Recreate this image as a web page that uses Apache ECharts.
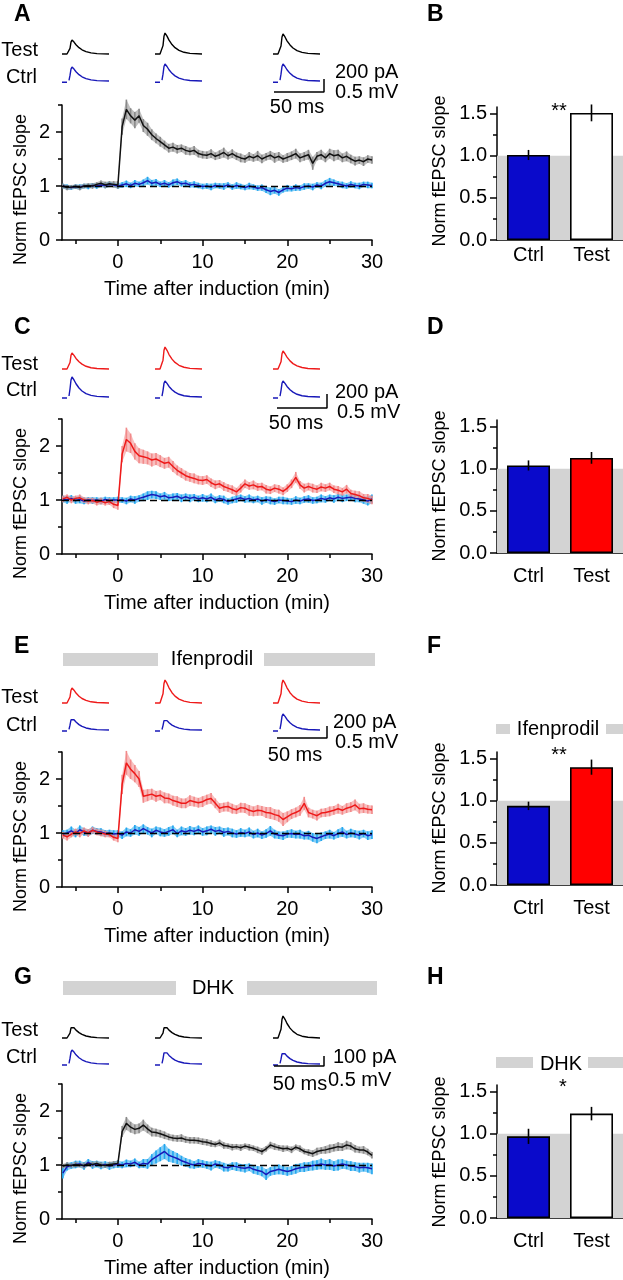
<!DOCTYPE html>
<html><head><meta charset="utf-8">
<script src="https://cdn.jsdelivr.net/npm/echarts@6/dist/echarts.min.js"></script>
<style>html,body{margin:0;padding:0;background:#fff}#c{width:623px;height:1280px}</style>
</head><body><div id="c"></div>
<script>
// ---------------- DATA ----------------
const timeMin = [-6.5,-6,-5.5,-5,-4.5,-4,-3.5,-3,-2.5,-2,-1.5,-1,-0.5,0,
 0.5,1,1.5,2,2.5,3,3.5,4,4.5,5,5.5,6,6.5,7,7.5,8,8.5,9,9.5,10,
 10.5,11,11.5,12,12.5,13,13.5,14,14.5,15,15.5,16,16.5,17,17.5,18,18.5,19,19.5,20,
 20.5,21,21.5,22,22.5,23,23.5,24,24.5,25,25.5,26,26.5,27,27.5,28,28.5,29,29.5,30];

// Panel A
const aTestMean = [1.00,0.97,0.98,0.99,0.97,1.00,1.01,1.00,1.03,1.05,1.02,1.04,1.03,1.02,
 2.10,2.42,2.30,2.22,2.30,2.12,2.05,1.95,1.88,1.82,1.76,1.70,1.72,1.68,1.70,1.66,1.64,1.66,1.60,1.58,
 1.57,1.60,1.55,1.58,1.62,1.56,1.60,1.55,1.52,1.50,1.55,1.52,1.56,1.50,1.54,1.57,1.52,1.55,1.50,1.53,
 1.56,1.60,1.52,1.55,1.58,1.42,1.55,1.58,1.52,1.60,1.56,1.58,1.52,1.55,1.50,1.46,1.48,1.45,1.50,1.48];
const aTestSem = [0.04,0.05,0.04,0.04,0.05,0.04,0.04,0.05,0.04,0.05,0.06,0.05,0.06,0.07,
 0.15,0.18,0.14,0.15,0.13,0.12,0.12,0.10,0.09,0.09,0.08,0.08,0.08,0.08,0.07,0.08,0.07,0.08,0.07,0.07,
 0.07,0.08,0.07,0.08,0.09,0.07,0.08,0.07,0.08,0.07,0.08,0.07,0.09,0.08,0.07,0.08,0.09,0.08,0.07,0.08,
 0.08,0.09,0.08,0.08,0.09,0.12,0.08,0.09,0.08,0.09,0.10,0.09,0.08,0.09,0.08,0.08,0.07,0.08,0.07,0.07];
const aCtrlMean = [1.00,0.98,0.97,0.99,0.98,1.00,0.99,1.01,1.00,1.02,1.01,1.03,1.02,1.00,
 1.02,1.04,1.01,1.05,1.03,1.06,1.10,1.05,1.07,1.03,1.05,1.02,1.06,1.08,1.04,1.05,1.02,1.03,1.01,0.99,
 1.00,0.98,1.01,1.00,0.99,1.02,0.98,1.01,0.99,0.97,1.00,0.98,0.96,0.97,0.93,0.90,0.92,0.88,0.93,0.96,
 0.95,0.97,0.96,0.99,1.00,0.98,1.02,1.00,1.05,1.08,1.06,1.04,1.02,1.00,1.03,1.01,1.00,1.03,1.02,1.01];
const aCtrlSem = [0.04,0.05,0.04,0.04,0.05,0.04,0.05,0.04,0.05,0.04,0.05,0.05,0.04,0.05,
 0.05,0.06,0.05,0.06,0.05,0.06,0.07,0.06,0.06,0.05,0.06,0.05,0.06,0.06,0.05,0.06,0.05,0.06,0.05,0.05,
 0.05,0.06,0.05,0.05,0.06,0.05,0.05,0.06,0.05,0.05,0.06,0.05,0.05,0.06,0.06,0.07,0.06,0.06,0.05,0.06,
 0.05,0.06,0.05,0.06,0.05,0.06,0.05,0.06,0.06,0.07,0.06,0.05,0.06,0.05,0.06,0.05,0.06,0.05,0.06,0.05];

// Panel C
const cTestMean = [1.02,1.05,1.00,1.03,1.04,1.00,0.98,0.99,0.96,0.98,0.95,0.97,0.92,0.90,
 1.85,2.12,2.05,1.90,1.82,1.80,1.78,1.74,1.76,1.72,1.68,1.70,1.62,1.55,1.50,1.45,1.42,1.40,1.37,1.36,
 1.38,1.32,1.28,1.30,1.25,1.22,1.19,1.15,1.22,1.30,1.26,1.28,1.24,1.25,1.20,1.18,1.22,1.20,1.16,1.22,
 1.30,1.42,1.28,1.22,1.25,1.22,1.20,1.24,1.22,1.25,1.20,1.18,1.15,1.20,1.12,1.10,1.08,1.04,1.03,1.00];
const cTestSem = [0.06,0.05,0.06,0.05,0.06,0.05,0.06,0.05,0.06,0.06,0.05,0.06,0.07,0.08,
 0.15,0.22,0.18,0.15,0.14,0.13,0.12,0.12,0.11,0.11,0.10,0.10,0.10,0.09,0.09,0.09,0.08,0.09,0.08,0.08,
 0.08,0.08,0.08,0.07,0.08,0.07,0.08,0.07,0.08,0.08,0.07,0.08,0.07,0.07,0.08,0.07,0.07,0.08,0.07,0.07,
 0.08,0.10,0.07,0.08,0.07,0.08,0.07,0.08,0.07,0.07,0.07,0.08,0.07,0.08,0.07,0.07,0.08,0.07,0.08,0.08];
const cCtrlMean = [1.02,1.00,1.03,0.99,1.01,0.98,1.00,0.99,1.00,0.98,1.01,0.99,1.00,1.00,
 1.00,0.98,1.02,1.00,1.03,1.05,1.08,1.10,1.09,1.06,1.08,1.04,1.05,1.07,1.03,1.06,1.03,1.05,1.02,1.04,
 1.02,1.05,1.00,1.03,1.01,0.97,1.00,1.02,1.04,1.01,1.03,1.00,1.02,0.98,1.01,0.99,0.97,1.00,0.99,0.98,
 0.97,1.00,0.98,1.01,1.02,0.99,1.00,1.03,1.01,1.04,1.02,1.05,1.03,1.04,1.05,1.03,1.02,1.00,0.98,1.02];
const cCtrlSem = [0.06,0.07,0.06,0.06,0.07,0.06,0.05,0.06,0.05,0.06,0.05,0.06,0.05,0.06,
 0.05,0.06,0.06,0.07,0.06,0.07,0.08,0.07,0.07,0.06,0.07,0.06,0.07,0.06,0.07,0.06,0.07,0.06,0.06,0.07,
 0.06,0.07,0.06,0.06,0.07,0.06,0.06,0.07,0.06,0.06,0.07,0.06,0.06,0.07,0.06,0.07,0.06,0.06,0.07,0.06,
 0.06,0.07,0.06,0.06,0.07,0.06,0.06,0.07,0.06,0.06,0.07,0.06,0.07,0.06,0.06,0.07,0.06,0.07,0.08,0.08];

// Panel E
const eTestMean = [0.96,0.93,0.98,1.02,0.99,1.04,1.00,1.05,1.02,1.00,0.98,0.97,0.92,0.90,
 1.90,2.30,2.18,2.10,2.00,1.68,1.70,1.72,1.68,1.70,1.65,1.64,1.60,1.58,1.55,1.55,1.60,1.58,1.56,1.58,
 1.62,1.64,1.55,1.46,1.48,1.49,1.45,1.43,1.47,1.46,1.42,1.40,1.42,1.41,1.38,1.37,1.34,1.32,1.25,1.30,
 1.35,1.38,1.42,1.55,1.38,1.35,1.32,1.37,1.38,1.40,1.42,1.45,1.42,1.46,1.48,1.52,1.45,1.46,1.44,1.43];
const eTestSem = [0.06,0.07,0.06,0.06,0.07,0.06,0.07,0.06,0.06,0.06,0.06,0.05,0.06,0.07,
 0.18,0.22,0.18,0.16,0.15,0.12,0.11,0.10,0.10,0.09,0.10,0.09,0.09,0.10,0.09,0.09,0.10,0.09,0.09,0.10,
 0.09,0.10,0.09,0.09,0.08,0.09,0.09,0.08,0.09,0.09,0.10,0.09,0.10,0.09,0.10,0.11,0.10,0.11,0.12,0.10,
 0.09,0.09,0.10,0.12,0.09,0.08,0.09,0.08,0.08,0.09,0.08,0.09,0.08,0.09,0.09,0.10,0.09,0.09,0.08,0.08];
const eCtrlMean = [0.98,1.00,1.04,0.99,1.06,1.02,1.00,1.05,1.03,1.02,0.99,1.00,0.98,0.99,
 0.96,1.02,1.00,1.06,1.03,1.08,1.04,1.00,1.05,1.02,1.00,1.03,1.06,0.99,1.04,1.02,1.05,1.03,1.06,1.02,
 1.04,1.07,1.03,1.05,1.01,1.03,1.00,0.98,1.01,0.99,1.02,0.97,1.00,0.96,0.99,1.04,0.98,0.96,0.95,0.98,
 0.99,0.97,0.98,0.95,0.96,0.92,0.90,0.93,0.96,0.98,0.95,0.99,1.02,0.97,1.00,0.98,0.96,0.99,0.95,0.97];
const eCtrlSem = [0.07,0.06,0.08,0.07,0.08,0.07,0.06,0.07,0.06,0.07,0.06,0.06,0.07,0.06,
 0.07,0.08,0.07,0.09,0.08,0.08,0.07,0.08,0.07,0.08,0.07,0.08,0.08,0.07,0.08,0.07,0.08,0.07,0.08,0.07,
 0.08,0.07,0.08,0.07,0.08,0.07,0.08,0.07,0.08,0.07,0.08,0.07,0.08,0.07,0.08,0.09,0.08,0.07,0.08,0.07,
 0.08,0.07,0.08,0.07,0.08,0.08,0.09,0.08,0.07,0.08,0.07,0.08,0.09,0.07,0.08,0.07,0.08,0.07,0.08,0.08];

// Panel G
const gTestMean = [0.98,1.00,0.99,1.01,1.00,0.99,1.02,1.01,1.03,1.00,0.99,1.01,1.02,1.03,
 1.62,1.77,1.70,1.66,1.68,1.74,1.67,1.61,1.60,1.58,1.55,1.52,1.50,1.49,1.50,1.47,1.46,1.46,1.45,1.43,
 1.42,1.40,1.38,1.41,1.36,1.35,1.33,1.34,1.32,1.35,1.33,1.31,1.28,1.25,1.30,1.37,1.34,1.32,1.30,1.31,
 1.28,1.33,1.30,1.25,1.23,1.21,1.25,1.27,1.28,1.30,1.32,1.34,1.33,1.37,1.35,1.30,1.28,1.28,1.24,1.18];
const gTestSem = [0.04,0.05,0.04,0.05,0.04,0.05,0.04,0.05,0.04,0.05,0.04,0.05,0.05,0.05,
 0.10,0.12,0.10,0.09,0.09,0.10,0.08,0.08,0.07,0.07,0.07,0.06,0.06,0.06,0.07,0.06,0.06,0.06,0.06,0.06,
 0.06,0.06,0.05,0.06,0.06,0.05,0.06,0.05,0.06,0.05,0.06,0.05,0.06,0.06,0.05,0.06,0.06,0.05,0.06,0.05,
 0.06,0.05,0.06,0.05,0.06,0.06,0.07,0.06,0.07,0.08,0.07,0.08,0.07,0.08,0.07,0.07,0.06,0.07,0.06,0.06];
const gCtrlMean = [0.85,0.97,0.99,1.01,1.02,0.98,1.05,1.00,1.02,0.99,1.01,0.98,1.00,1.02,
 1.00,1.03,1.02,1.05,1.00,1.03,1.02,1.10,1.15,1.20,1.25,1.18,1.15,1.12,1.08,1.05,1.02,1.00,1.03,1.02,
 1.00,0.98,1.02,1.00,0.96,0.95,0.98,0.97,0.95,0.94,0.96,0.92,0.90,0.88,0.82,0.88,0.90,0.92,0.90,0.88,
 0.90,0.93,0.95,0.96,0.97,0.99,1.00,1.02,1.00,1.01,0.98,1.00,1.02,1.00,0.98,0.97,0.95,0.96,0.95,0.93];
const gCtrlSem = [0.10,0.07,0.06,0.07,0.06,0.07,0.06,0.07,0.06,0.07,0.06,0.07,0.06,0.07,
 0.06,0.07,0.06,0.07,0.06,0.08,0.09,0.10,0.12,0.13,0.14,0.12,0.11,0.10,0.09,0.08,0.08,0.07,0.08,0.07,
 0.07,0.08,0.07,0.07,0.08,0.07,0.07,0.08,0.07,0.08,0.07,0.08,0.08,0.09,0.10,0.08,0.08,0.09,0.08,0.08,
 0.08,0.09,0.08,0.09,0.08,0.09,0.09,0.10,0.09,0.10,0.09,0.10,0.09,0.08,0.09,0.08,0.09,0.08,0.09,0.10];

// Axis ticks
const timeTicksMajor = [0,10,20,30];
const timeTicksMinor = [-5,5,15,25];
const normTicksMajor = [0,1,2];
const normTicksMinor = [0.5,1.5,2.5];
const barTicksMajor = [0,0.5,1.0,1.5];
const barTicksMinor = [0.25,0.75,1.25];

// Bar summaries (Ctrl, Test)
const barCategories = ['Ctrl','Test'];
const bMean = [1.01,1.51], bSem = [0.06,0.10];
const dMean = [1.04,1.13], dSem = [0.06,0.07];
const fMean = [0.94,1.40], fSem = [0.05,0.09];
const hMean = [0.97,1.24], hSem = [0.09,0.08];
const sigMarks = ['**','','**','*'];

// Example sweeps (time in ms, current in pA)
const traceTimeMs = [0,5,6,7,8,9,10,12,14,17,20,24,29,35,47];
const aTestTraces = [
 [0,0,0,11,86,183,215,183,142,97,65,37,17,6,0],
 [0,0,0,16,129,275,323,275,213,145,97,55,26,10,0],
 [0,0,0,15,123,262,308,262,203,139,92,52,25,9,0]];
const aCtrlTraces = [
 [-20,-20,null,11,86,183,215,183,142,97,65,37,17,6,0],
 [-20,-20,null,13,105,223,262,223,173,118,79,45,21,8,0],
 [-20,-20,null,13,105,223,262,223,173,118,79,45,21,8,0]];
const cTestTraces = [
 [0,0,0,11,92,195,229,195,151,103,69,39,18,7,0],
 [0,0,0,16,126,267,314,267,207,141,94,53,25,9,0],
 [0,0,0,13,103,218,257,218,170,116,77,44,21,8,0]];
const cCtrlTraces = [
 [-15,-15,null,14,114,243,286,243,189,129,86,49,23,9,0],
 [-15,-15,null,11,92,195,229,195,151,103,69,39,18,7,0],
 [-15,-15,null,11,92,195,229,195,151,103,69,39,18,7,0]];
const eTestTraces = [
 [0,0,0,13,100,213,250,213,165,113,75,43,20,8,0],
 [0,0,0,19,153,326,383,326,253,172,115,65,31,11,0],
 [0,0,0,19,153,326,383,326,253,172,115,65,31,11,0]];
const eCtrlTraces = [
 [-17,-17,null,10,80,170,200,170,132,90,60,34,16,6,0],
 [-17,-17,null,9,73,156,183,156,121,82,55,31,15,5,0],
 [-17,-17,null,13,107,227,267,227,176,120,80,45,21,8,0]];
const gTestTraces = [
 [0,0,0,6,48,102,120,102,79,54,36,20,10,4,0],
 [0,0,0,6,48,102,120,102,79,54,36,20,10,4,0],
 [0,0,0,11,88,187,220,187,145,99,66,37,18,7,0]];
const gCtrlTraces = [
 [-10,-10,null,7,56,119,140,119,92,63,42,24,11,4,0],
 [-10,-10,null,7,52,111,130,111,86,59,39,22,10,4,0],
 [-10,-10,null,6,48,102,120,102,79,54,36,20,10,4,0]];
const scaleBarMs = 50;
const scaleBarPA = [200,200,200,100];
const scaleBarMV = 0.5;
const drugNames = [null,null,'Ifenprodil','DHK'];

// ---------------- STYLE / LAYOUT ----------------
const FONT = "'Liberation Sans', Arial, Helvetica, sans-serif";
const AX = {color:'#000', width:1.5};
const COL = {
  black:{mean:'#111111', sem:'#8a8a8a'},
  red:{mean:'#ee1a1a', sem:'#f28a8a'},
  blue:{mean:'#1818b8', sem:'#22a6ee'}
};
const panels = [
 {L:'A', R:'B', tM:aTestMean, tS:aTestSem, cM:aCtrlMean, cS:aCtrlSem, tTr:aTestTraces, cTr:aCtrlTraces,
  tCol:'black', barM:bMean, barS:bSem, barTestFill:'#ffffff',
  letterY:15, testY:50, ctrlY:77, testBase:54, ctrlBase:81, pxPerPA:13/200,
  sbLeft:274, sbY:92, paX:335, paY:72, mvX:335, mvY:92, msX:297, msY:107,
  plotTop:105, barTop:107, catMargin:5, sigX:559, sigY:111, labY:171},
 {L:'C', R:'D', tM:cTestMean, tS:cTestSem, cM:cCtrlMean, cS:cCtrlSem, tTr:cTestTraces, cTr:cCtrlTraces,
  tCol:'red', barM:dMean, barS:dSem, barTestFill:'#ff0000',
  letterY:328, testY:364, ctrlY:390, testBase:369, ctrlBase:397, pxPerPA:14/200,
  sbLeft:277, sbY:408, paX:335, paY:392, mvX:337, mvY:412, msX:296, msY:423,
  plotTop:419, barTop:420, catMargin:13, sigX:559, sigY:425, labY:486},
 {L:'E', R:'F', tM:eTestMean, tS:eTestSem, cM:eCtrlMean, cS:eCtrlSem, tTr:eTestTraces, cTr:eCtrlTraces,
  tCol:'red', barM:fMean, barS:fSem, barTestFill:'#ff0000',
  letterY:647, testY:697, ctrlY:725, testBase:703, ctrlBase:730, pxPerPA:12/200,
  sbLeft:277, sbY:738, paX:333, paY:722, mvX:335, mvY:742, msX:295, msY:755,
  plotTop:752, barTop:752, catMargin:13, sigX:559, sigY:755, labY:818,
  drugY:653, drugH:13, drugRects:[[63,158],[264,375]], drugTX:212, drugTY:659,
  bDrugY:724, bDrugH:10, bDrugRects:[[496,510],[606,623]], bDrugTX:558, bDrugTY:729},
 {L:'G', R:'H', tM:gTestMean, tS:gTestSem, cM:gCtrlMean, cS:gCtrlSem, tTr:gTestTraces, cTr:gCtrlTraces,
  tCol:'black', barM:hMean, barS:hSem, barTestFill:'#ffffff',
  letterY:978, testY:1030, ctrlY:1057, testBase:1038, ctrlBase:1064, pxPerPA:10/100,
  sbLeft:274, sbY:1066, paX:333, paY:1057, mvX:328, mvY:1080, msX:300, msY:1084,
  plotTop:1084, barTop:1085, catMargin:13, sigX:563, sigY:1087, labY:1152,
  drugY:981, drugH:14, drugRects:[[63,176],[247,377]], drugTX:213, drugTY:988,
  bDrugY:1057, bDrugH:11, bDrugRects:[[496,533],[588,623]], bDrugTX:561, bDrugTY:1064}
];
const PLOT_LEFT = 62, PLOT_W = 310, PLOT_H = 135;
const BAR_LEFT = 497, BAR_H = 133;
const traceCols = [62,155,273];

const grid=[], xAxis=[], yAxis=[], series=[], gfx=[];

function txt(t,x,y,opt){
  opt = opt||{};
  gfx.push({type:'text', x:x, y:y, rotation:opt.rot||0, silent:true, z:10,
    style:{text:t, fontSize:opt.size||20, fontWeight:opt.weight||'normal', fontFamily:FONT,
      fill:'#000', align:opt.align||'left', verticalAlign:'middle'}});
}
function rect(x,y,w,h,fill){
  gfx.push({type:'rect', silent:true, z:5, shape:{x:x,y:y,width:w,height:h}, style:{fill:fill}});
}

function bandSeries(xi, yi, m, e, color){
  return {type:'custom', xAxisIndex:xi, yAxisIndex:yi, silent:true, z:1,
    data:[[timeMin[0], m[0]]],
    renderItem:function(params, api){
      const pts=[];
      for(let i=0;i<timeMin.length;i++) pts.push(api.coord([timeMin[i], m[i]+e[i]]));
      for(let i=timeMin.length-1;i>=0;i--) pts.push(api.coord([timeMin[i], m[i]-e[i]]));
      return {type:'polygon', shape:{points:pts}, style:{fill:color, opacity:0.55}};
    }};
}
function errSeries(xi, yi, m, e, color){
  return {type:'custom', xAxisIndex:xi, yAxisIndex:yi, silent:true, z:2,
    data: timeMin.map((t,i)=>[t, m[i], e[i]]),
    renderItem:function(params, api){
      const x=api.value(0), v=api.value(1), er=api.value(2);
      const a=api.coord([x, v-er]), b=api.coord([x, v+er]);
      return {type:'line', shape:{x1:a[0],y1:a[1],x2:b[0],y2:b[1]}, style:{stroke:color, lineWidth:1.6}};
    }};
}
function meanSeries(xi, yi, m, color, z, withRef){
  const s = {type:'line', xAxisIndex:xi, yAxisIndex:yi, silent:true, z:z,
    data: timeMin.map((t,i)=>[t, m[i]]), showSymbol:false, symbol:'none',
    lineStyle:{color:color, width:1.5}};
  if(withRef){
    s.markLine = {silent:true, symbol:'none', label:{show:false}, z:10,
      lineStyle:{color:'#000', width:1.3, type:[7,4]}, data:[{yAxis:1}]};
  }
  return s;
}

function addTrace(left, base, s, vals, color){
  const gi=grid.length;
  grid.push({left:left, top:base-30, width:50, height:40});
  const xi=xAxis.length, yi=yAxis.length;
  xAxis.push({gridIndex:gi, type:'value', min:0, max:50, show:false});
  yAxis.push({gridIndex:gi, type:'value', min:-10/s, max:30/s, show:false});
  series.push({type:'line', xAxisIndex:xi, yAxisIndex:yi, silent:true, showSymbol:false, symbol:'none',
    connectNulls:false, clip:false,
    data: traceTimeMs.map((t,i)=>[t, vals[i]===null?'-':vals[i]]),
    lineStyle:{color:color, width:1.4}});
}

panels.forEach(function(P, pi){
  // ---- time course ----
  const gi=grid.length;
  grid.push({left:PLOT_LEFT, top:P.plotTop, width:PLOT_W, height:PLOT_H});
  const xi=xAxis.length;
  xAxis.push({gridIndex:gi, type:'value', position:'bottom', min:-6.6, max:30,
    axisLine:{show:true, onZero:false, lineStyle:AX},
    axisTick:{show:true, customValues:timeTicksMajor, length:6, lineStyle:AX},
    axisLabel:{customValues:timeTicksMajor, margin:12, fontSize:20, color:'#000', fontFamily:FONT},
    splitLine:{show:false},
    name:'Time after induction (min)', nameLocation:'middle', nameGap:39,
    nameTextStyle:{fontSize:20, color:'#000', fontFamily:FONT}});
  xAxis.push({gridIndex:gi, type:'value', position:'bottom', min:-6.6, max:30,
    axisLine:{show:false, onZero:false}, axisTick:{show:true, customValues:timeTicksMinor, length:4, lineStyle:AX},
    axisLabel:{show:false}, splitLine:{show:false}});
  const yi=yAxis.length;
  yAxis.push({gridIndex:gi, type:'value', position:'left', min:0, max:2.5,
    axisLine:{show:true, onZero:false, lineStyle:AX},
    axisTick:{show:true, customValues:normTicksMajor, length:6, lineStyle:AX},
    axisLabel:{customValues:normTicksMajor, margin:12, fontSize:20, color:'#000', fontFamily:FONT},
    splitLine:{show:false}});
  yAxis.push({gridIndex:gi, type:'value', position:'left', min:0, max:2.5,
    axisLine:{show:false, onZero:false}, axisTick:{show:true, customValues:normTicksMinor, length:4, lineStyle:AX},
    axisLabel:{show:false}, splitLine:{show:false}});
  const tc = COL[P.tCol], cc = COL.blue;
  series.push(bandSeries(xi, yi, P.cM, P.cS, cc.sem));
  series.push(bandSeries(xi, yi, P.tM, P.tS, tc.sem));
  series.push(errSeries(xi, yi, P.cM, P.cS, cc.sem));
  series.push(errSeries(xi, yi, P.tM, P.tS, tc.sem));
  series.push(meanSeries(xi, yi, P.cM, cc.mean, 3, false));
  series.push(meanSeries(xi, yi, P.tM, tc.mean, 4, true));
  txt('Norm fEPSC slope', 21, P.plotTop + PLOT_H/2 + 17, {rot:Math.PI/2, align:'center', size:18});

  // ---- sweeps ----
  for(let k=0;k<3;k++){
    addTrace(traceCols[k], P.testBase, P.pxPerPA, P.tTr[k], tc.mean === '#111111' ? '#000' : tc.mean);
    addTrace(traceCols[k], P.ctrlBase, P.pxPerPA, P.cTr[k], cc.mean);
  }
  // scale bar
  {
    const gs=grid.length;
    grid.push({left:P.sbLeft, top:P.sbY-40, width:50, height:40});
    const sx=xAxis.length, sy=yAxis.length;
    xAxis.push({gridIndex:gs, type:'value', min:0, max:50, show:false});
    yAxis.push({gridIndex:gs, type:'value', min:0, max:40/P.pxPerPA, show:false});
    series.push({type:'line', xAxisIndex:sx, yAxisIndex:sy, silent:true, showSymbol:false, symbol:'none', clip:false,
      data:[[0,0],[scaleBarMs,0],[scaleBarMs,scaleBarPA[pi]]], lineStyle:{color:'#000', width:1.5}});
  }
  txt(scaleBarPA[pi]+' pA', P.paX, P.paY);
  txt(scaleBarMV+' mV', P.mvX, P.mvY);
  txt(scaleBarMs+' ms', P.msX, P.msY, {align:'center'});
  txt('Test', 38, P.testY, {align:'right'});
  txt('Ctrl', 37, P.ctrlY, {align:'right'});
  txt(P.L, 14, P.letterY, {size:23, weight:'bold'});
  txt(P.R, 427, P.letterY, {size:23, weight:'bold'});

  if(drugNames[pi]){
    P.drugRects.forEach(r=>rect(r[0], P.drugY, r[1]-r[0], P.drugH, '#d3d3d3'));
    txt(drugNames[pi], P.drugTX, P.drugTY, {align:'center'});
    P.bDrugRects.forEach(r=>rect(r[0], P.bDrugY, r[1]-r[0], P.bDrugH, '#d3d3d3'));
    txt(drugNames[pi], P.bDrugTX, P.bDrugTY, {align:'center'});
  }

  // ---- bar chart ----
  const gb=grid.length;
  grid.push({left:BAR_LEFT, top:P.barTop, right:0, height:BAR_H});
  const bx=xAxis.length;
  xAxis.push({gridIndex:gb, type:'category', data:barCategories,
    axisLine:{show:true, onZero:false, lineStyle:AX}, axisTick:{show:false},
    axisLabel:{margin:P.catMargin, fontSize:20, color:'#000', fontFamily:FONT}, splitLine:{show:false}});
  const by=yAxis.length;
  yAxis.push({gridIndex:gb, type:'value', position:'left', min:0, max:1.58,
    axisLine:{show:true, onZero:false, lineStyle:AX},
    axisTick:{show:true, customValues:barTicksMajor, length:7, lineStyle:AX},
    axisLabel:{customValues:barTicksMajor, margin:10, fontSize:20, color:'#000', fontFamily:FONT,
      formatter:function(v){return Number(v).toFixed(1);}},
    splitLine:{show:false}});
  yAxis.push({gridIndex:gb, type:'value', position:'left', min:0, max:1.58,
    axisLine:{show:false, onZero:false}, axisTick:{show:true, customValues:barTicksMinor, length:4, lineStyle:AX},
    axisLabel:{show:false}, splitLine:{show:false}});
  series.push({type:'bar', xAxisIndex:bx, yAxisIndex:by, silent:true, barWidth:43, z:2,
    data:[{value:P.barM[0], itemStyle:{color:'#0a0acb'}}, {value:P.barM[1], itemStyle:{color:P.barTestFill}}],
    itemStyle:{borderColor:'#000', borderWidth:1.6},
    markArea:{silent:true, z:1, itemStyle:{color:'#d3d3d3'}, data:[[{yAxis:0},{yAxis:1}]]}});
  series.push({type:'custom', xAxisIndex:bx, yAxisIndex:by, silent:true, z:5,
    data:P.barM.map((v,i)=>[i, v, P.barS[i]]),
    renderItem:function(params, api){
      const a=api.coord([api.value(0), api.value(1)-api.value(2)]);
      const b=api.coord([api.value(0), api.value(1)+api.value(2)]);
      return {type:'line', shape:{x1:a[0],y1:a[1],x2:b[0],y2:b[1]}, style:{stroke:'#000', lineWidth:1.6}};
    }});
  txt('Norm fEPSC slope', 440, P.labY, {rot:Math.PI/2, align:'center', size:18});
  if(sigMarks[pi]) txt(sigMarks[pi], P.sigX, P.sigY, {align:'center'});
});

const chart = echarts.init(document.getElementById('c'), null, {renderer:'canvas'});
chart.setOption({animation:false, backgroundColor:'#fff', grid:grid, xAxis:xAxis, yAxis:yAxis, series:series,
  graphic:{elements:gfx}});
</script></body></html>
